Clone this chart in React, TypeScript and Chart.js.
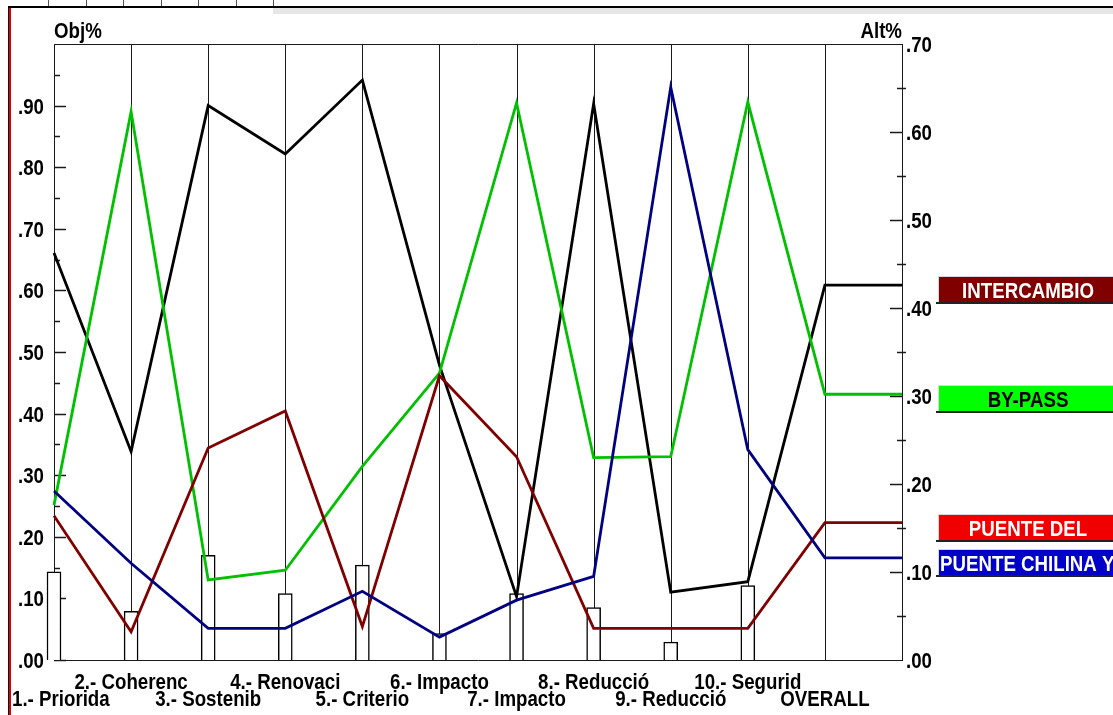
import React, { useEffect, useRef } from 'react';
import { Chart, registerables } from 'chart.js';

Chart.register(...registerables);

// ---- Data ----
const criteria = [
  '1.- Priorida',
  '2.- Coherenc',
  '3.- Sostenib',
  '4.- Renovaci',
  '5.- Criterio',
  '6.- Impacto',
  '7.- Impacto',
  '8.- Reducció',
  '9.- Reducció',
  '10.- Segurid',
  'OVERALL',
];

// Objective weights (left axis, Obj%)
const objWeights = [0.143, 0.079, 0.170, 0.108, 0.154, 0.043, 0.108, 0.085, 0.029, 0.121];

// Alternative priorities per criterion + OVERALL (right axis, Alt%)
const intercambio = [0.4625, 0.237, 0.630, 0.575, 0.659, 0.335, 0.072, 0.632, 0.077, 0.089, 0.426];
const byPass = [0.176, 0.623, 0.091, 0.102, 0.220, 0.326, 0.633, 0.230, 0.231, 0.634, 0.302];
const puenteDel = [0.164, 0.032, 0.241, 0.283, 0.038, 0.323, 0.231, 0.036, 0.036, 0.036, 0.156];
const puenteChilina = [0.192, 0.110, 0.036, 0.036, 0.078, 0.026, 0.068, 0.095, 0.651, 0.239, 0.116];

const altNames = ['INTERCAMBIO', 'BY-PASS', 'PUENTE DEL', 'PUENTE CHILINA Y'];
const altLineColors = ['#000000', '#00c000', '#800000', '#000080'];
const altBoxColors = ['#800000', '#00ff00', '#f00000', '#0000c8'];
const altTextColors = ['#ffffff', '#000000', '#ffffff', '#ffffff'];

const leftTickValues = [0, 0.05, 0.1, 0.15, 0.2, 0.25, 0.3, 0.35, 0.4, 0.45, 0.5, 0.55, 0.6, 0.65, 0.7, 0.75, 0.8, 0.85, 0.9, 0.95];
const leftLabelValues = [0, 0.1, 0.2, 0.3, 0.4, 0.5, 0.6, 0.7, 0.8, 0.9];
const leftLabels = ['.00', '.10', '.20', '.30', '.40', '.50', '.60', '.70', '.80', '.90'];
const rightTickValues = [0.05, 0.1, 0.15, 0.2, 0.25, 0.3, 0.35, 0.4, 0.45, 0.5, 0.55, 0.6, 0.65];
const rightLabelValues = [0, 0.1, 0.2, 0.3, 0.4, 0.5, 0.6, 0.7];
const rightLabels = ['.00', '.10', '.20', '.30', '.40', '.50', '.60', '.70'];

const FONT = "bold 22px 'Liberation Sans', Arial, sans-serif";
const SX = 0.85; // horizontal condensing of the label font

const alternatives = [intercambio, byPass, puenteDel, puenteChilina];

function toPoints(values: number[]) {
  const pts = values.map((v, i) => ({ x: i, y: v }));
  pts.push({ x: values.length, y: values[values.length - 1] });
  return pts;
}

function textW(ctx: CanvasRenderingContext2D, s: string) {
  return ctx.measureText(s).width * SX;
}

// draw condensed text; x is the left edge
function drawText(ctx: CanvasRenderingContext2D, s: string, x: number, y: number) {
  ctx.save();
  ctx.translate(x, y);
  ctx.scale(SX, 1);
  ctx.textAlign = 'left';
  ctx.textBaseline = 'alphabetic';
  ctx.fillText(s, 0, 0);
  ctx.restore();
}

const customPlugin = {
  id: 'ecCustom',
  beforeDatasetsDraw(chart: any) {
    const { ctx, chartArea: a, scales } = chart;
    const x = scales.x;
    const yL = scales.yL;
    const yR = scales.yR;
    ctx.save();
    ctx.strokeStyle = '#1a1a1a';
    ctx.lineWidth = 1;
    for (let i = 0; i <= criteria.length; i++) {
      const px = Math.round(x.getPixelForValue(i)) + 0.5;
      ctx.beginPath();
      ctx.moveTo(px, a.top);
      ctx.lineTo(px, a.bottom);
      ctx.stroke();
    }
    ctx.beginPath();
    ctx.moveTo(a.left, Math.round(a.top) + 0.5);
    ctx.lineTo(a.right + 1, Math.round(a.top) + 0.5);
    ctx.moveTo(a.left, Math.round(a.bottom) + 0.5);
    ctx.lineTo(a.right + 1, Math.round(a.bottom) + 0.5);
    ctx.stroke();
    ctx.lineWidth = 1.5;
    leftTickValues.forEach((v) => {
      const py = Math.round(yL.getPixelForValue(v)) + 0.5;
      const major = Math.abs(v * 10 - Math.round(v * 10)) < 1e-6;
      ctx.beginPath();
      ctx.moveTo(a.left, py);
      ctx.lineTo(a.left + (major ? 12 : 6), py);
      ctx.stroke();
    });
    rightTickValues.forEach((v) => {
      const py = Math.round(yR.getPixelForValue(v)) + 0.5;
      const major = Math.abs(v * 10 - Math.round(v * 10)) < 1e-6;
      ctx.beginPath();
      if (major) {
        ctx.moveTo(a.right - 12, py);
        ctx.lineTo(a.right, py);
      } else {
        ctx.moveTo(a.right - 5, py);
        ctx.lineTo(a.right + 4, py);
      }
      ctx.stroke();
    });
    ctx.restore();
  },
  afterDraw(chart: any) {
    const { ctx, chartArea: a, scales } = chart;
    const x = scales.x;
    const yL = scales.yL;
    const yR = scales.yR;
    ctx.save();
    ctx.font = FONT;
    ctx.fillStyle = '#000';

    // axis titles
    drawText(ctx, 'Obj%', a.left, a.top - 6);
    drawText(ctx, 'Alt%', a.right - textW(ctx, 'Alt%'), a.top - 6);

    // left labels (right aligned)
    leftLabelValues.forEach((v, i) => {
      const py = yL.getPixelForValue(v);
      drawText(ctx, leftLabels[i], a.left - 10 - textW(ctx, leftLabels[i]), py + 8);
    });
    // right labels
    rightLabelValues.forEach((v, i) => {
      const py = yR.getPixelForValue(v);
      drawText(ctx, rightLabels[i], a.right + 4, py + 8);
    });

    // category labels (two staggered rows)
    criteria.forEach((name, i) => {
      const px = x.getPixelForValue(i);
      const w = textW(ctx, name);
      let left = px - w / 2;
      if (left < 12) left = 12;
      const by = i % 2 === 0 ? a.bottom + 46 : a.bottom + 29;
      drawText(ctx, name, left, by);
    });

    // legend boxes on the right
    const last = alternatives.map((arr) => arr[arr.length - 1]);
    const items = last
      .map((v, i) => ({ i, cy: yR.getPixelForValue(v) + 4.5 }))
      .sort((p, q) => p.cy - q.cy);
    for (let k = 1; k < items.length; k++) {
      if (items[k].cy - items[k - 1].cy < 31) items[k].cy = items[k - 1].cy + 31;
    }
    const boxL = a.right + 37;
    const boxW = 178;
    const boxH = 25;
    items.forEach(({ i, cy }) => {
      const top = Math.round(cy - boxH / 2);
      ctx.fillStyle = '#222';
      ctx.fillRect(boxL - 3, top + boxH, boxW + 3, 2);
      ctx.fillStyle = '#d8d8d8';
      ctx.fillRect(boxL - 1, top - 1, boxW + 1, 1);
      ctx.fillRect(boxL - 1, top - 1, 1, boxH + 1);
      ctx.fillStyle = altBoxColors[i];
      ctx.fillRect(boxL, top, boxW, boxH);
      ctx.save();
      ctx.beginPath();
      ctx.rect(boxL, top, boxW, boxH);
      ctx.clip();
      ctx.fillStyle = altTextColors[i];
      const tw = textW(ctx, altNames[i]);
      const tx = tw > boxW - 4 ? boxL + 1 : boxL + (boxW - tw) / 2;
      drawText(ctx, altNames[i], tx, top + boxH / 2 + 8);
      ctx.restore();
    });

    ctx.restore();
  },
};

export default function App() {
  const canvasRef = useRef<HTMLCanvasElement | null>(null);

  useEffect(() => {
    const canvas = canvasRef.current;
    if (!canvas) return;

    const datasets: any[] = alternatives.map((vals, i) => ({
      type: 'line',
      label: altNames[i],
      data: toPoints(vals),
      xAxisID: 'x',
      yAxisID: 'yR',
      borderColor: altLineColors[i],
      backgroundColor: altLineColors[i],
      borderWidth: 2.8,
      pointRadius: 0,
      tension: 0,
      fill: false,
      clip: false,
      order: 4 - i,
    }));
    datasets.push({
      type: 'bar',
      label: 'Obj%',
      data: objWeights.map((v, i) => ({ x: i, y: v })),
      xAxisID: 'x',
      yAxisID: 'yL',
      backgroundColor: '#ffffff',
      borderColor: '#000000',
      borderWidth: 1.5,
      barThickness: 14,
      clip: false,
      order: 10,
    });

    const chart = new Chart(canvas, {
      type: 'line',
      data: { datasets },
      options: {
        animation: false,
        responsive: false,
        maintainAspectRatio: false,
        layout: { padding: { left: 54, right: 211, top: 44, bottom: 55 } },
        plugins: { legend: { display: false }, tooltip: { enabled: false } },
        scales: {
          x: { type: 'linear', min: 0, max: 11, display: false, offset: false },
          yL: { type: 'linear', position: 'left', min: 0, max: 1, display: false },
          yR: { type: 'linear', position: 'right', min: 0, max: 0.7, display: false },
        },
      },
      plugins: [customPlugin],
    });

    return () => chart.destroy();
  }, []);

  return (
    <div style={{ position: 'absolute', left: 0, top: 0, width: 1113, height: 715, background: '#fff', overflow: 'hidden' }}>
      <div style={{ position: 'absolute', left: 8, top: 6, width: 1105, height: 2, background: '#000' }} />
      <div style={{ position: 'absolute', left: 273, top: 8, width: 840, height: 6, background: '#e6e6e6' }} />
      {[48, 86, 123, 161, 198, 236, 273].map((xx) => (
        <div key={xx} style={{ position: 'absolute', left: xx, top: 0, width: 1, height: 6, background: '#555' }} />
      ))}
      <div style={{ position: 'absolute', left: 8, top: 7, width: 1, height: 708, background: '#000' }} />
      <div style={{ position: 'absolute', left: 9, top: 8, width: 2, height: 707, background: '#e00000' }} />
      <canvas ref={canvasRef} width={1113} height={715} style={{ position: 'absolute', left: 0, top: 0, width: 1113, height: 715 }} />
    </div>
  );
}
